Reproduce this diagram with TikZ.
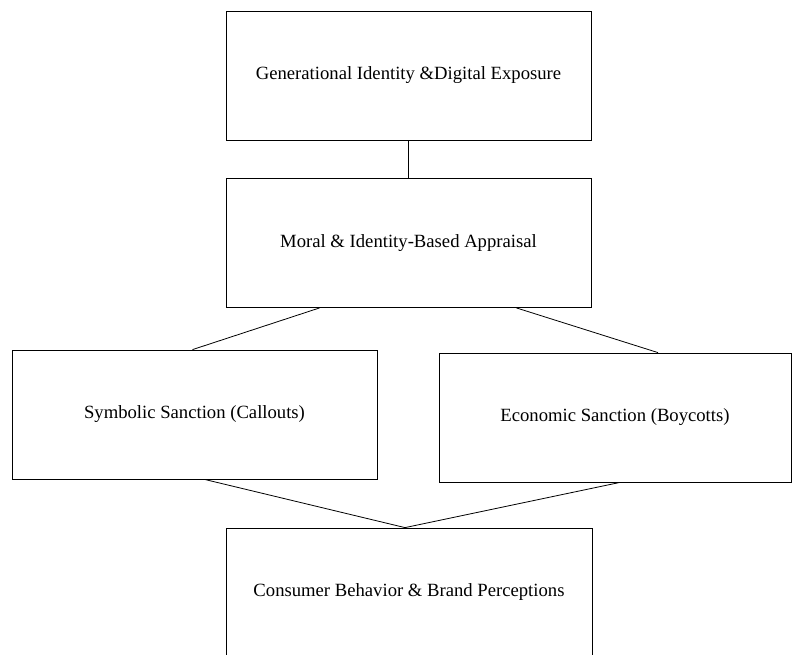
\documentclass[tikz,border=0pt]{standalone}
\usepackage{fontspec}
\setmainfont{Liberation Serif}
\usetikzlibrary{calc}

\begin{document}
\begin{tikzpicture}[x=0.75pt, y=-0.75pt, semithick]
                        \tikzset{box/.style={draw, rectangle, minimum width=365*0.75pt, minimum height=129*0.75pt, inner sep=0pt, font=\fontsize{14}{17}\selectfont}};
                        \clip (0, 0) rectangle (793, 654);
                        \node[box] (gen) at (408.5, 75.5) {Generational Identity \&Digital Exposure};
                        \node[box] (moral) at (408.5, 243) {Moral \& Identity-Based Appraisal};
                        \node[box] (sym) at (194.5, 414.5) {Symbolic Sanction (Callouts)};
                        \node[box, minimum width=352*0.75pt] (eco) at (615, 417.5) {Economic Sanction (Boycotts)};
                        \node[box, minimum width=366*0.75pt, minimum height=128*0.75pt] (cons) at (409, 592) {Consumer Behavior \& Brand Perceptions};
                        \draw (gen.south) -- (moral.north);
                        \draw ($(moral.south west)+(94, 0)$) -- ($(sym.north)+(-2, 0)$);
                        \draw ($(moral.south east)+(-75, 0)$) -- ($(eco.north)+(43, 0)$);
                        \draw ($(sym.south)+(10, 0)$) -- ($(cons.north)+(-4, 0)$);
                        \draw ($(eco.south)+(5, 0)$) -- ($(cons.north)+(-4, 0)$);
                    \end{tikzpicture}
\end{document}
